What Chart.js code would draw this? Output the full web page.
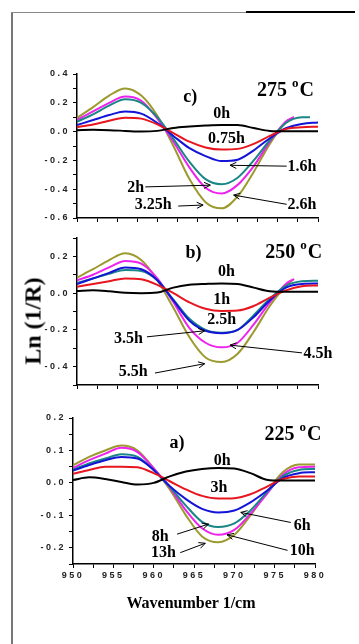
<!DOCTYPE html>
<html><head><meta charset="utf-8">
<script src="https://cdn.jsdelivr.net/npm/chart.js@4/dist/chart.umd.min.js"></script>
<style>
html,body{margin:0;padding:0;background:#fff;width:359px;height:644px;overflow:hidden;position:relative}
canvas{position:absolute;left:0}
.frameL{position:absolute;left:11px;top:12px;width:2px;height:632px;background:#777}
.frameT{position:absolute;left:11px;top:12px;width:235px;height:1px;background:#888}
.frameT2{position:absolute;left:246px;top:11px;width:109px;height:2px;background:#000}
.ytitle{position:absolute;left:33px;top:321px;transform:translate(-50%,-50%) rotate(-90deg);font:bold 24px "Liberation Serif";white-space:nowrap;color:#000}
.xtitle{position:absolute;left:191px;top:603px;transform:translate(-50%,-50%);font:bold 16px "Liberation Serif";white-space:nowrap;color:#000}
</style></head><body>
<div class="frameL"></div><div class="frameT"></div><div class="frameT2"></div>
<canvas id="c275" width="359" height="190" style="top:50px"></canvas>
<canvas id="c250" width="359" height="175" style="top:225px"></canvas>
<canvas id="c225" width="359" height="200" style="top:400px"></canvas>
<div class="ytitle">Ln (1/R)</div>
<div class="xtitle">Wavenumber 1/cm</div>
<script>
// ---- data ----
const wavenumbers = [950,952,954,956,958,960,962,964,966,968,970,972,974,976,977,978,979,980];
const xTickLabels = [950,955,960,965,970,975,980];

// 275 °C
const t275_0h   = [0.010,0.012,0.010,0.005,0.000,0.005,0.025,0.035,0.042,0.046,0.045,0.025,0.005,0.003,null,0.003,null,0.003];
const t275_075h = [0.030,0.050,0.075,0.097,0.090,0.050,-0.010,-0.070,-0.110,-0.125,-0.120,-0.085,-0.030,0.018,null,0.030,null,0.034];
const t275_16h  = [0.046,0.080,0.115,0.140,0.125,0.060,-0.030,-0.115,-0.170,-0.205,-0.195,-0.130,-0.046,0.023,null,0.053,null,0.064];
const t275_2h   = [0.069,0.120,0.180,0.225,0.200,0.100,-0.050,-0.210,-0.330,-0.365,-0.320,-0.200,-0.060,0.060,null,0.099,0.100,null];
const t275_26h  = [0.081,0.140,0.200,0.243,0.214,0.090,-0.070,-0.250,-0.390,-0.430,-0.370,-0.240,-0.070,0.070,0.100,null,null,null];
const t275_325h = [0.094,0.170,0.250,0.300,0.250,0.110,-0.100,-0.330,-0.490,-0.533,-0.450,-0.280,-0.085,0.064,0.100,null,null,null];
const yLabels275 = [0.4,0.2,0.0,-0.2,-0.4,-0.6];

// 250 °C
const t250_0h  = [0.012,0.015,0.010,0.002,0.000,0.003,0.030,0.045,0.050,0.053,0.050,0.030,0.010,0.007,null,0.007,null,0.007];
const t250_1h  = [0.035,0.050,0.065,0.080,0.075,0.045,0.000,-0.050,-0.085,-0.097,-0.095,-0.070,-0.025,0.015,null,0.038,null,0.042];
const t250_25h = [0.050,0.080,0.110,0.139,0.130,0.070,-0.040,-0.150,-0.205,-0.218,-0.200,-0.130,-0.040,0.030,null,0.050,null,0.052];
const t250_35h = [0.055,0.080,0.105,0.126,0.120,0.070,-0.035,-0.140,-0.200,-0.215,-0.200,-0.120,-0.030,0.040,null,0.065,null,0.068];
const t250_45h = [0.070,0.100,0.140,0.175,0.160,0.080,-0.050,-0.190,-0.270,-0.295,-0.270,-0.170,-0.050,0.050,0.077,null,null,null];
const t250_55h = [0.085,0.130,0.180,0.217,0.180,0.070,-0.080,-0.240,-0.350,-0.375,-0.330,-0.210,-0.070,0.040,0.077,null,null,null];
const yLabels250 = [0.2,0.0,-0.2,-0.4];

// 225 °C
const t225_0h  = [0.009,0.017,0.012,0.003,-0.005,0.000,0.020,0.035,0.043,0.046,0.044,0.030,0.010,0.007,null,0.007,null,0.007];
const t225_3h  = [0.028,0.040,0.050,0.050,0.048,0.030,0.005,-0.020,-0.040,-0.048,-0.047,-0.035,-0.012,0.012,null,0.020,null,0.020];
const t225_6h  = [0.038,0.055,0.070,0.080,0.075,0.040,-0.010,-0.050,-0.080,-0.091,-0.085,-0.060,-0.025,0.015,null,0.030,null,0.033];
const t225_8h  = [0.041,0.060,0.075,0.088,0.080,0.040,-0.012,-0.070,-0.120,-0.136,-0.125,-0.085,-0.030,0.020,null,0.040,null,0.043];
const t225_10h = [0.046,0.070,0.090,0.108,0.095,0.045,-0.015,-0.085,-0.140,-0.160,-0.145,-0.095,-0.035,0.025,null,0.048,null,0.050];
const t225_13h = [0.054,0.080,0.100,0.115,0.100,0.045,-0.020,-0.100,-0.165,-0.183,-0.160,-0.100,-0.030,0.033,null,0.057,null,0.057];
const yLabels225 = [0.2,0.1,0.0,-0.1,-0.2];

const COLORS = ['#000000','#e8161e','#1414d8','#1a8686','#ee22ee','#9c9a2e'];

// ---- plugin for in-plot text and arrows ----
const notesPlugin = {
  id: 'notes',
  beforeDraw(chart){ chart.ctx.letterSpacing = '2.5px'; },
  afterDatasetsDraw(chart, args, opts){
    const ctx = chart.ctx, xs = chart.scales.x, ys = chart.scales.y;
    const px = v => xs.getPixelForValue(v), py = v => ys.getPixelForValue(v);
    ctx.save();
    ctx.letterSpacing = '0px';
    ctx.fillStyle = '#000'; ctx.strokeStyle = '#000';
    ctx.textAlign = 'center'; ctx.textBaseline = 'middle';
    (opts.arrows || []).forEach(a => {
      const x1 = px(a.from[0]), y1 = py(a.from[1]), x2 = px(a.to[0]), y2 = py(a.to[1]);
      ctx.lineWidth = 1;
      ctx.beginPath(); ctx.moveTo(x1, y1); ctx.lineTo(x2, y2); ctx.stroke();
      const ang = Math.atan2(y2 - y1, x2 - x1), L = 7, s = 0.45;
      ctx.beginPath();
      ctx.moveTo(x2 - L * Math.cos(ang - s), y2 - L * Math.sin(ang - s));
      ctx.lineTo(x2, y2);
      ctx.lineTo(x2 - L * Math.cos(ang + s), y2 - L * Math.sin(ang + s));
      ctx.stroke();
    });
    (opts.labels || []).forEach(l => {
      ctx.font = 'bold ' + (l.size || 16) + 'px "Liberation Serif"';
      ctx.fillText(l.text, px(l.x), py(l.y));
    });
    if (opts.temp) {
      const t = opts.temp;
      ctx.textAlign = 'left'; ctx.textBaseline = 'alphabetic';
      const big = 'bold 20px "Liberation Serif"', small = 'bold 13px "Liberation Serif"';
      ctx.font = big; const w1 = ctx.measureText(t.num + ' ').width;
      ctx.font = small; const w2 = ctx.measureText(t.sup).width;
      ctx.font = big; const w3 = ctx.measureText(t.unit).width;
      let x = px(t.x) - (w1 + w2 + w3) / 2; const y = py(t.y) + 7;
      ctx.font = big; ctx.fillText(t.num + ' ', x, y); x += w1;
      ctx.font = small; ctx.fillText(t.sup, x, y - 9); x += w2 + 1;
      ctx.font = big; ctx.fillText(t.unit, x, y);
    }
    ctx.restore();
  },
  afterDraw(chart){ chart.ctx.letterSpacing = '0px'; }
};

function near(arr, v){ return arr.some(t => Math.abs(t - v) < 1e-6); }

function makeChart(id, series, names, cfg){
  const datasets = series.map((s, i) => ({
    label: names[i],
    data: wavenumbers.map((w, k) => ({x: w, y: s[k]})),
    borderColor: COLORS[i], borderWidth: 2, pointRadius: 0,
    fill: false, tension: 0.4, cubicInterpolationMode: 'monotone', spanGaps: true
  }));
  const tickFont = {family: '"Liberation Sans", Arial', size: 9, weight: 'bold'};
  return new Chart(document.getElementById(id), {
    type: 'line',
    data: {datasets},
    plugins: [notesPlugin],
    options: {
      responsive: false, animation: false, devicePixelRatio: 1,
      layout: {padding: cfg.padding},
      plugins: {legend: {display: false}, tooltip: {enabled: false}, notes: cfg.notes},
      scales: {
        x: {
          type: 'linear', min: 950, max: 980,
          border: {display: true, color: '#000', width: 1.5},
          grid: {drawOnChartArea: false, drawTicks: true, tickLength: 4, tickColor: '#000', tickWidth: 1},
          ticks: {stepSize: 2.5, autoSkip: false, maxRotation: 0, padding: 2, color: '#222', font: tickFont,
                  callback: v => (cfg.showX && near(xTickLabels, v)) ? String(v) : ''},
          afterFit: s => { s.height = cfg.xH; }
        },
        y: {
          type: 'linear', min: cfg.ymin, max: cfg.ymax,
          border: {display: true, color: '#000', width: 1.5},
          grid: {drawOnChartArea: false, drawTicks: true, tickLength: 4, tickColor: '#000', tickWidth: 1},
          ticks: {stepSize: cfg.ystep, autoSkip: false, padding: 3, color: '#222', font: tickFont,
                  callback: v => near(cfg.ylabels, v) ? v.toFixed(1) : ''},
          afterFit: s => { s.width = cfg.yW; }
        }
      }
    }
  });
}

makeChart('c275', [t275_0h,t275_075h,t275_16h,t275_2h,t275_26h,t275_325h],
  ['0h','0.75h','1.6h','2h','2.6h','3.25h'], {
  padding: {top: 24, right: 41, bottom: 10, left: 0}, xH: 12, yW: 77,
  ymin: -0.6, ymax: 0.4, ystep: 0.1, ylabels: yLabels275, showX: false,
  notes: {
    labels: [
      {text: 'c)', x: 964.1, y: 0.237, size: 18},
      {text: '0h', x: 968.0, y: 0.122},
      {text: '0.75h', x: 968.6, y: -0.05},
      {text: '1.6h', x: 978.0, y: -0.246},
      {text: '2h', x: 957.3, y: -0.388},
      {text: '3.25h', x: 959.5, y: -0.51},
      {text: '2.6h', x: 978.0, y: -0.51}
    ],
    arrows: [
      {from: [976.1, -0.24], to: [969.05, -0.234]},
      {from: [958.5, -0.384], to: [966.6, -0.372]},
      {from: [962.6, -0.517], to: [965.7, -0.51]},
      {from: [976.1, -0.505], to: [969.5, -0.441]}
    ],
    temp: {num: '275', sup: 'o', unit: 'C', x: 975.9, y: 0.294}
  }
});

makeChart('c250', [t250_0h,t250_1h,t250_25h,t250_35h,t250_45h,t250_55h],
  ['0h','1h','2.5h','3.5h','4.5h','5.5h'], {
  padding: {top: 13, right: 41, bottom: 3, left: 0}, xH: 12, yW: 77,
  ymin: -0.5, ymax: 0.3, ystep: 0.1, ylabels: yLabels250, showX: false,
  notes: {
    labels: [
      {text: 'b)', x: 964.5, y: 0.219, size: 18},
      {text: '0h', x: 968.6, y: 0.118},
      {text: '1h', x: 968.0, y: -0.037},
      {text: '2.5h', x: 968.0, y: -0.146},
      {text: '3.5h', x: 956.4, y: -0.247},
      {text: '4.5h', x: 980.0, y: -0.333},
      {text: '5.5h', x: 957.0, y: -0.426}
    ],
    arrows: [
      {from: [958.7, -0.238], to: [965.9, -0.205]},
      {from: [978.0, -0.325], to: [969.05, -0.283]},
      {from: [959.7, -0.435], to: [965.9, -0.384]}
    ],
    temp: {num: '250', sup: 'o', unit: 'C', x: 976.9, y: 0.228}
  }
});

makeChart('c225', [t225_0h,t225_3h,t225_6h,t225_8h,t225_10h,t225_13h],
  ['0h','3h','6h','8h','10h','13h'], {
  padding: {top: 18, right: 44, bottom: 16, left: 0}, xH: 20, yW: 73,
  ymin: -0.25, ymax: 0.2, ystep: 0.05, ylabels: yLabels225, showX: true,
  notes: {
    labels: [
      {text: 'a)', x: 962.9, y: 0.121, size: 18},
      {text: '0h', x: 968.5, y: 0.069},
      {text: '3h', x: 968.1, y: -0.016},
      {text: '6h', x: 978.4, y: -0.132},
      {text: '8h', x: 960.8, y: -0.167},
      {text: '10h', x: 978.4, y: -0.21},
      {text: '13h', x: 961.2, y: -0.217}
    ],
    arrows: [
      {from: [977.0, -0.122], to: [970.8, -0.091]},
      {from: [962.9, -0.158], to: [966.8, -0.127]},
      {from: [976.6, -0.208], to: [969.1, -0.16]},
      {from: [963.3, -0.215], to: [966.4, -0.186]}
    ],
    temp: {num: '225', sup: 'o', unit: 'C', x: 977.2, y: 0.154}
  }
});
</script>
</body></html>
